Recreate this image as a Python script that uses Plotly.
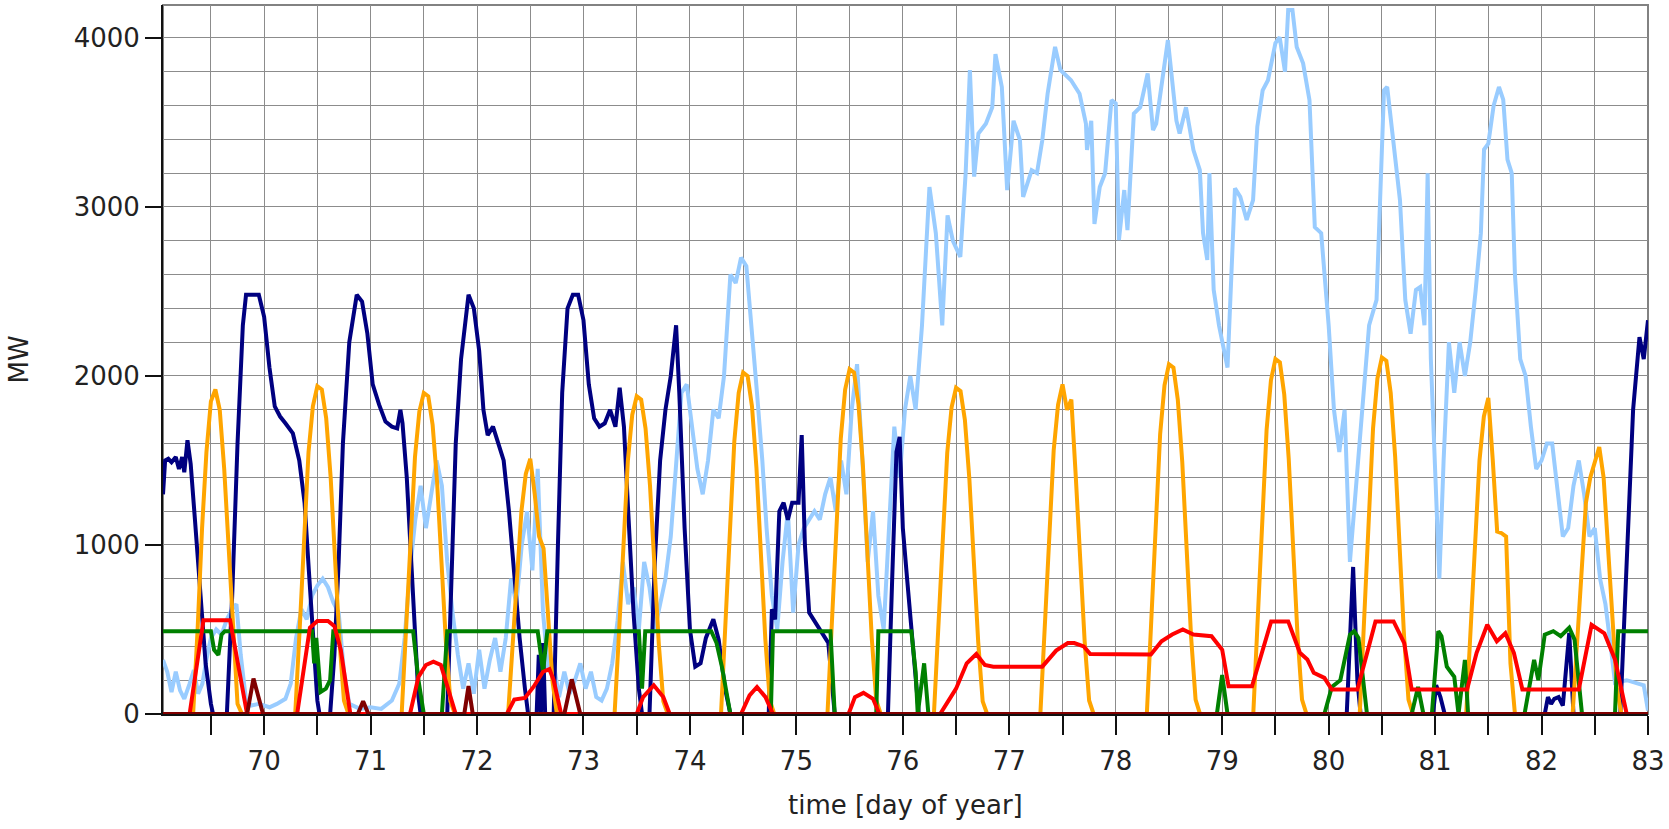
import plotly.graph_objects as go

# ---- time series (day of year, MW) ----
wind_t = [69.05, 69.09, 69.13, 69.17, 69.21, 69.25, 69.3, 69.34, 69.38, 69.42, 69.46, 69.5, 69.55, 69.6, 69.65,
          69.7, 69.74, 69.78, 69.83, 69.88, 69.95, 70.05, 70.12, 70.2, 70.25, 70.3, 70.35, 70.4, 70.45, 70.5,
          70.55, 70.6, 70.65, 70.7, 70.75, 70.8, 70.9, 71.0, 71.1, 71.2, 71.27, 71.32, 71.37, 71.42, 71.47,
          71.52, 71.57, 71.62, 71.67, 71.72, 71.77, 71.82, 71.87, 71.92, 71.97, 72.02, 72.07, 72.12, 72.17,
          72.22, 72.27, 72.32, 72.37, 72.42, 72.47, 72.52, 72.57, 72.62, 72.67, 72.72, 72.77, 72.82, 72.87,
          72.92, 72.97, 73.02, 73.07, 73.12, 73.17, 73.22, 73.27, 73.32, 73.37, 73.42, 73.47, 73.52, 73.57,
          73.62, 73.67, 73.72, 73.77, 73.82, 73.87, 73.92, 73.97, 74.02, 74.07, 74.12, 74.17, 74.22, 74.27,
          74.32, 74.38, 74.43, 74.48, 74.53, 74.58, 74.63, 74.68, 74.72, 74.77, 74.82, 74.87, 74.92, 74.97,
          75.02, 75.07, 75.12, 75.17, 75.22, 75.27, 75.32, 75.37, 75.42, 75.47, 75.52, 75.57, 75.62, 75.67,
          75.72, 75.77, 75.82, 75.87, 75.92, 75.97, 76.02, 76.07, 76.12, 76.18, 76.25, 76.31, 76.37, 76.42,
          76.47, 76.54, 76.59, 76.63, 76.67, 76.71, 76.78, 76.84, 76.87, 76.93, 76.98, 77.04, 77.1, 77.13,
          77.21, 77.26, 77.31, 77.36, 77.43, 77.48, 77.58, 77.66, 77.72, 77.73, 77.77, 77.8, 77.85, 77.9,
          77.96, 78.0, 78.03, 78.08, 78.11, 78.17, 78.23, 78.3, 78.35, 78.38, 78.49, 78.57, 78.6, 78.66,
          78.73, 78.79, 78.82, 78.86, 78.88, 78.92, 78.97, 79.05, 79.12, 79.17, 79.23, 79.29, 79.33, 79.38,
          79.43, 79.5, 79.54, 79.59, 79.62, 79.66, 79.7, 79.76, 79.82, 79.87, 79.93, 80.0, 80.05, 80.1,
          80.15, 80.2, 80.25, 80.3, 80.38, 80.45, 80.52, 80.55, 80.6, 80.67, 80.72, 80.77, 80.82, 80.86,
          80.9, 80.93, 80.96, 81.0, 81.04, 81.08, 81.13, 81.18, 81.23, 81.28, 81.33, 81.38, 81.43, 81.46,
          81.5, 81.55, 81.6, 81.64, 81.68, 81.72, 81.75, 81.8, 81.85, 81.9, 81.95, 82.0, 82.05, 82.1,
          82.15, 82.2, 82.25, 82.3, 82.35, 82.4, 82.45, 82.5, 82.55, 82.6, 82.65, 82.69, 82.8, 82.96, 83.0]
wind_mw = [320, 250, 130, 250, 140, 90, 180, 260, 120, 180, 330, 450, 500, 470, 560,
           620, 650, 350, 80, 50, 60, 40, 60, 90, 180, 450, 620, 560, 700, 760,
           800, 750, 660, 600, 250, 60, 30, 40, 30, 80, 180, 450, 850, 1150, 1350,
           1100, 1300, 1500, 1350, 900, 600, 350, 150, 300, 120, 380, 150, 320, 450,
           250, 450, 800, 650, 1000, 1200, 850, 1450, 600, 250, 300, 100, 250, 120,
           200, 300, 150, 250, 100, 80, 150, 300, 550, 900, 650, 750, 500, 900,
           750, 500, 650, 800, 1050, 1500, 1900, 1950, 1700, 1450, 1300, 1500, 1800, 1750,
           2000, 2600, 2550, 2700, 2650, 2300, 1900, 1500, 1100, 700, 500, 900, 1200, 600,
           1000, 1100, 1150, 1200, 1150, 1300, 1400, 1200, 1500, 1300, 1800, 2070, 1500, 900,
           1200, 700, 500, 1100, 1700, 1400, 1800, 2000, 1800, 2300, 3118, 2845, 2300, 2950,
           2800, 2704, 3200, 3810, 3180, 3435, 3493, 3590, 3905, 3710, 3100, 3510, 3395, 3060,
           3218, 3200, 3395, 3670, 3947, 3810, 3750, 3670, 3493, 3337, 3510, 2900, 3118, 3200,
           3632, 3612, 2804, 3100, 2863, 3552, 3590, 3790, 3455, 3493, 3987, 3510, 3435, 3590,
           3337, 3218, 2845, 2686, 3200, 2510, 2300, 2050, 3110, 3060, 2923, 3040, 3475, 3690,
           3750, 3970, 4004, 3800, 4165, 4165, 3947, 3850, 3632, 2881, 2845, 2300, 1800, 1550,
           1800, 900, 1300, 1700, 2300, 2450, 3690, 3710, 3435, 3040, 2450, 2250, 2510, 2527,
           2300, 3200, 2100, 1400, 800, 1500, 2200, 1900, 2200, 2000, 2200, 2500, 2845, 3340,
           3375, 3600, 3710, 3635, 3280, 3200, 2600, 2100, 2000, 1700, 1450, 1500, 1600, 1600,
           1300, 1050, 1100, 1350, 1500, 1300, 1050, 1100, 800, 650, 400, 185, 200, 170, 20]

navy_t = [69.05, 69.07, 69.1, 69.13, 69.17, 69.2, 69.23, 69.25, 69.28, 69.31, 69.35, 69.4, 69.45, 69.5,
          69.52, 69.65, 69.7, 69.75, 69.8, 69.83, 69.95, 70.0, 70.05, 70.1, 70.15, 70.2, 70.27, 70.33,
          70.38, 70.42, 70.46, 70.5, 70.52, 70.62, 70.66, 70.7, 70.74, 70.8, 70.87, 70.92, 70.97, 71.02,
          71.08, 71.14, 71.2, 71.25, 71.28, 71.3, 71.34, 71.38, 71.42, 71.45, 71.47, 71.72, 71.75, 71.8,
          71.85, 71.92, 71.97, 72.02, 72.06, 72.1, 72.15, 72.2, 72.25, 72.3, 72.35, 72.4, 72.45, 72.48,
          72.56, 72.58, 72.6, 72.62, 72.64, 72.72, 72.76, 72.8, 72.85, 72.9, 72.95, 73.0, 73.05, 73.1,
          73.15, 73.2, 73.25, 73.3, 73.34, 73.38, 73.42, 73.47, 73.52, 73.55, 73.62, 73.67, 73.72, 73.77,
          73.82, 73.87, 73.9, 73.95, 74.0, 74.05, 74.1, 74.15, 74.22, 74.27, 74.33, 74.38, 74.74, 74.77,
          74.8, 74.84, 74.88, 74.92, 74.96, 75.02, 75.05, 75.08, 75.12, 75.17, 75.25, 75.3, 75.36, 75.86,
          75.9, 75.94, 75.97, 76.0, 76.04, 76.08, 76.12, 76.15, 80.17, 80.23, 80.27, 80.3, 80.98, 81.01,
          81.05, 81.09, 82.03, 82.06, 82.09, 82.12, 82.16, 82.2, 82.26, 82.3, 82.74, 82.8, 82.86, 82.92,
          82.96, 83.0]
navy_mw = [1300, 1500, 1510, 1490, 1520, 1450, 1520, 1430, 1620, 1480, 1150, 700, 300, 60,
           0, 0, 700, 1600, 2300, 2480, 2480, 2350, 2050, 1820, 1760, 1720, 1660, 1500,
           1250, 850, 450, 80, 0, 0, 350, 900, 1600, 2200, 2480, 2440, 2250, 1950,
           1830, 1730, 1700, 1690, 1800, 1720, 1400, 900, 400, 100, 0, 0, 600, 1600,
           2100, 2480, 2400, 2150, 1800, 1650, 1700, 1600, 1500, 1200, 800, 450, 150, 0,
           0, 350, 0, 420, 0, 0, 1000, 1900, 2400, 2480, 2480, 2330, 1950, 1750,
           1700, 1720, 1800, 1700, 1930, 1700, 1200, 600, 150, 0, 0, 900, 1500, 1800,
           2000, 2300, 1900, 1100, 500, 280, 300, 450, 560, 440, 150, 0, 0, 620,
           560, 1200, 1250, 1150, 1250, 1250, 1650, 1000, 600, 550, 480, 420, 0, 0,
           800, 1550, 1640, 1100, 800, 500, 250, 0, 0, 870, 200, 0, 0, 170,
           100, 0, 0, 100, 60, 90, 100, 50, 480, 0, 0, 900, 1800, 2230,
           2100, 2330]

solar_t = [69.05, 69.333, 69.375, 69.417, 69.458, 69.5, 69.542, 69.583, 69.625, 69.667, 69.708, 69.75, 69.792,
           70.292, 70.333, 70.375, 70.417, 70.458, 70.5, 70.542, 70.583, 70.625, 70.667, 70.708, 70.75, 70.792,
           71.292, 71.333, 71.375, 71.417, 71.458, 71.5, 71.542, 71.583, 71.625, 71.667, 71.708, 71.75, 71.792,
           72.292, 72.333, 72.375, 72.417, 72.458, 72.5, 72.542, 72.583, 72.625, 72.667, 72.708, 72.75,
           73.292, 73.333, 73.375, 73.417, 73.458, 73.5, 73.542, 73.583, 73.625, 73.667, 73.708, 73.75, 73.792,
           74.292, 74.333, 74.375, 74.417, 74.458, 74.5, 74.542, 74.583, 74.625, 74.667, 74.708, 74.75, 74.792,
           75.292, 75.333, 75.375, 75.417, 75.458, 75.5, 75.542, 75.583, 75.625, 75.667, 75.708, 75.75, 75.792,
           76.292, 76.333, 76.375, 76.417, 76.458, 76.5, 76.542, 76.583, 76.625, 76.667, 76.708, 76.75, 76.792,
           77.292, 77.333, 77.375, 77.417, 77.458, 77.5, 77.542, 77.583, 77.625, 77.667, 77.708, 77.75, 77.792,
           78.292, 78.333, 78.375, 78.417, 78.458, 78.5, 78.542, 78.583, 78.625, 78.667, 78.708, 78.75, 78.792,
           79.292, 79.333, 79.375, 79.417, 79.458, 79.5, 79.542, 79.583, 79.625, 79.667, 79.708, 79.75, 79.792,
           80.292, 80.333, 80.375, 80.417, 80.458, 80.5, 80.542, 80.583, 80.625, 80.667, 80.708, 80.75, 80.792,
           81.292, 81.333, 81.375, 81.417, 81.458, 81.5, 81.542, 81.583, 81.625, 81.667, 81.708, 81.75,
           82.292, 82.333, 82.375, 82.417, 82.458, 82.5, 82.542, 82.583, 82.625, 82.667, 82.708, 82.75, 83.0]
solar_mw = [0, 0, 500, 1100, 1550, 1850, 1920, 1800, 1450, 950, 450, 60, 0,
            0, 490, 1070, 1550, 1820, 1940, 1920, 1750, 1400, 930, 430, 80, 0,
            0, 475, 1045, 1520, 1790, 1900, 1880, 1710, 1370, 910, 420, 75, 0,
            0, 380, 830, 1200, 1420, 1510, 1300, 1050, 980, 600, 200, 0,
            0, 470, 1035, 1500, 1770, 1880, 1860, 1690, 1350, 900, 410, 75, 0,
            0, 505, 1110, 1615, 1900, 2020, 2000, 1820, 1455, 970, 445, 80, 0,
            0, 510, 1120, 1630, 1920, 2040, 2020, 1835, 1470, 980, 450, 80, 0,
            0, 480, 1060, 1545, 1815, 1930, 1910, 1740, 1390, 925, 425, 75, 0,
            0, 490, 1070, 1560, 1830, 1950, 1800, 1860, 1400, 930, 430, 80, 0,
            0, 520, 1140, 1655, 1945, 2070, 2050, 1860, 1490, 995, 455, 85, 0,
            0, 525, 1155, 1680, 1975, 2100, 2080, 1890, 1510, 1010, 460, 85, 0,
            0, 530, 1160, 1690, 1985, 2110, 2090, 1900, 1520, 1010, 465, 85, 0,
            0, 470, 1030, 1500, 1760, 1870, 1500, 1080, 1070, 1050, 300, 0,
            0, 400, 870, 1250, 1400, 1500, 1580, 1400, 1000, 550, 150, 0, 0]

base_t = [69.05, 69.5, 69.53, 69.57, 69.6, 69.63, 70.45, 70.47, 70.49, 70.51, 70.53, 70.58, 70.62, 70.65,
          71.4, 71.45, 71.5, 71.67, 71.72, 72.57, 72.62, 72.66, 73.52, 73.55, 73.58, 74.2, 74.25, 74.3,
          74.38, 74.76, 74.78, 75.32, 75.36, 75.75, 75.77, 76.08, 76.12, 76.14, 76.2, 76.24, 78.95, 79.0,
          79.05, 79.96, 80.03, 80.11, 80.2, 80.24, 80.28, 80.36, 80.78, 80.84, 80.89, 80.97, 81.03, 81.06,
          81.11, 81.18, 81.22, 81.28, 81.31, 81.84, 81.93, 81.97, 82.03, 82.11, 82.18, 82.26, 82.31, 82.38,
          82.69, 82.72, 83.0]
base_mw = [490, 490, 380, 350, 470, 490, 490, 300, 450, 280, 130, 150, 200, 490,
           490, 200, 0, 0, 490, 490, 250, 490, 490, 150, 490, 490, 420, 280,
           0, 0, 490, 490, 0, 0, 490, 490, 250, 0, 300, 0, 0, 230,
           0, 0, 160, 200, 470, 490, 450, 0, 0, 160, 0, 0, 490, 460,
           280, 220, 0, 320, 0, 0, 320, 200, 470, 490, 460, 510, 440, 0,
           0, 490, 490]

store_t = [69.05, 69.3, 69.43, 69.68, 69.84, 70.31, 70.43, 70.5, 70.6, 70.66, 70.72, 70.81, 71.37, 71.45,
           71.52, 71.59, 71.66, 71.74, 71.8, 72.28, 72.35, 72.45, 72.53, 72.62, 72.68, 72.72, 72.79, 73.5,
           73.56, 73.66, 73.75, 73.81, 74.48, 74.56, 74.63, 74.71, 74.78, 75.49, 75.55, 75.63, 75.72, 75.78,
           76.35, 76.45, 76.5, 76.6, 76.69, 76.77, 76.85, 77.31, 77.44, 77.55, 77.61, 77.7, 77.76, 78.33,
           78.43, 78.53, 78.63, 78.73, 78.9, 79.0, 79.06, 79.28, 79.46, 79.62, 79.73, 79.8, 79.86, 79.96,
           80.03, 80.27, 80.44, 80.61, 80.71, 80.78, 81.3, 81.39, 81.49, 81.58, 81.66, 81.74, 81.82, 82.35,
           82.47, 82.59, 82.69, 82.8, 83.0]
store_mw = [0, 0, 555, 555, 0, 0, 510, 550, 550, 520, 380, 0, 0, 220,
            290, 310, 290, 130, 0, 0, 85, 95, 160, 250, 265, 200, 0, 0,
            100, 170, 100, 0, 0, 110, 160, 100, 0, 0, 100, 125, 90, 0,
            0, 100, 150, 300, 355, 290, 280, 280, 375, 420, 420, 400, 355, 352,
            430, 470, 500, 470, 460, 380, 164, 164, 548, 548, 362, 323, 244, 214,
            145, 145, 548, 548, 420, 145, 145, 362, 528, 430, 478, 362, 145, 145,
            528, 478, 323, 0, 0]

peak_t = [69.05, 69.84, 69.9, 69.99, 70.88, 70.93, 70.98, 71.88, 71.92, 71.96, 72.82, 72.89, 72.97, 83.0]
peak_mw = [0, 0, 210, 0, 0, 75, 0, 0, 165, 0, 0, 205, 0, 0]

# axis ticks: a tick every half day, labels on whole days
x_tickvals = [69.5, 70, 70.5, 71, 71.5, 72, 72.5, 73, 73.5, 74, 74.5, 75, 75.5, 76, 76.5,
              77, 77.5, 78, 78.5, 79, 79.5, 80, 80.5, 81, 81.5, 82, 82.5, 83]
x_ticktext = ["", "70", "", "71", "", "72", "", "73", "", "74", "", "75", "", "76", "",
              "77", "", "78", "", "79", "", "80", "", "81", "", "82", "", "83"]
y_tickvals = [0, 1000, 2000, 3000, 4000]

series = [
    (wind_t, wind_mw, "#99CCFF"),
    (navy_t, navy_mw, "#000080"),
    (solar_t, solar_mw, "#FFA500"),
    (base_t, base_mw, "#008000"),
    (store_t, store_mw, "#FF0000"),
    (peak_t, peak_mw, "#800000"),
]

fig = go.Figure()
for t, v, c in series:
    fig.add_trace(go.Scatter(x=t, y=v, mode="lines", line=dict(color=c, width=4),
                             showlegend=False, hoverinfo="skip"))

grid = "rgb(140,140,140)"
font = dict(family="DejaVu Sans", size=26, color="#222222")

fig.update_layout(
    width=1669, height=829,
    margin=dict(l=163, r=21, t=5, b=115),
    paper_bgcolor="white", plot_bgcolor="white",
    font=font,
    xaxis=dict(range=[69.05, 83], tickmode="array", tickvals=x_tickvals, ticktext=x_ticktext,
               ticks="outside", ticklen=19, tickwidth=2, tickcolor="#111",
               ticklabelstandoff=4,
               showgrid=True, gridcolor=grid, gridwidth=1.3, zeroline=False,
               showline=True, linecolor="#111", linewidth=2, layer="below traces",
               tickfont=font),
    yaxis=dict(range=[0, 4195], tickmode="array", tickvals=y_tickvals,
               ticks="outside", ticklen=16, tickwidth=2, tickcolor="#111",
               showgrid=True, gridcolor=grid, gridwidth=1.3, zeroline=False,
               showline=True, linecolor="#111", linewidth=2, layer="below traces",
               tickfont=font,
               minor=dict(dtick=200, showgrid=True, gridcolor=grid, gridwidth=1.3, ticks="")),
    shapes=[dict(type="rect", xref="paper", yref="paper", x0=0, x1=1, y0=0, y1=1,
                 line=dict(color="rgb(130,130,130)", width=2), layer="below")],
    annotations=[
        dict(text="time [day of year]", xref="paper", yref="paper", x=0.5, y=-0.128,
             showarrow=False, font=font, xanchor="center", yanchor="middle"),
        dict(text="MW", xref="paper", yref="paper", x=-0.097, y=0.5, textangle=-90,
             showarrow=False, font=font, xanchor="center", yanchor="middle"),
    ],
)

fig.write_html("out.html")
